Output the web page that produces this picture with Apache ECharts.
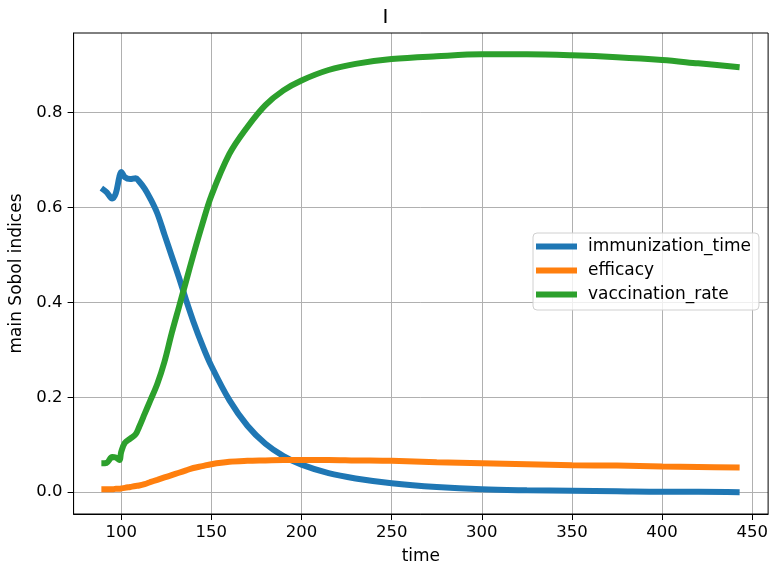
<!DOCTYPE html>
<html>
<head>
<meta charset="utf-8">
<script src="https://cdn.jsdelivr.net/npm/echarts@6/dist/echarts.min.js"></script>
<style>
  html, body { margin: 0; padding: 0; background: #fff; }
  #chart { width: 771px; height: 570px; }
</style>
</head>
<body>
<div id="chart"></div>
<script>
// sampled times (x) shared by all three curves
var times = [89, 92, 95, 97, 99, 100, 102, 105, 108, 110, 113, 116, 120, 124, 128, 132, 136, 140, 145, 150,
  160, 170, 180, 190, 200, 215, 230, 250, 275, 300, 325, 350, 375, 400, 420, 443];

var immunizationTime = [0.641, 0.632, 0.619, 0.630, 0.665, 0.675, 0.664, 0.660, 0.662, 0.655, 0.640, 0.620, 0.588, 0.543,
  0.498, 0.453, 0.405, 0.360, 0.310, 0.266, 0.194, 0.140, 0.102, 0.076, 0.058, 0.040, 0.029, 0.019, 0.011,
  0.006, 0.004, 0.003, 0.002, 0.001, 0.001, 0.000];

var efficacy = [0.006, 0.006, 0.006, 0.007, 0.007, 0.008, 0.009, 0.011, 0.013, 0.014, 0.017, 0.021, 0.026, 0.031,
  0.036, 0.041, 0.046, 0.051, 0.055, 0.059, 0.064, 0.066, 0.067, 0.068, 0.068, 0.068, 0.067, 0.066, 0.063,
  0.061, 0.059, 0.057, 0.056, 0.054, 0.053, 0.052];

var vaccinationRate = [0.061, 0.062, 0.074, 0.073, 0.068, 0.085, 0.104, 0.113, 0.122, 0.138, 0.165, 0.192, 0.228, 0.275,
  0.335, 0.390, 0.445, 0.500, 0.565, 0.625, 0.713, 0.770, 0.816, 0.847, 0.868, 0.890, 0.903, 0.913, 0.919,
  0.923, 0.923, 0.921, 0.917, 0.911, 0.904, 0.896];

var xTicks = [100, 150, 200, 250, 300, 350, 400, 450];
var yTicks = [0, 0.2, 0.4, 0.6, 0.8];

var seriesNames = ['immunization_time', 'efficacy', 'vaccination_rate'];
var seriesColors = ['#1f77b4', '#ff7f0e', '#2ca02c'];

function pairs(values) {
  return times.map(function(t, i) { return [t, values[i]]; });
}

var font = 'DejaVu Sans';
var chart = echarts.init(document.getElementById('chart'));

var option = {
  animation: false,
  backgroundColor: '#fff',
  textStyle: { fontFamily: font },
  title: {
    text: 'I',
    left: 'center',
    top: 3,
    textStyle: { fontFamily: font, fontSize: 20, fontWeight: 'normal', color: '#000' }
  },
  grid: { left: 73.6, right: 1, top: 33, bottom: 55 },
  legend: {
    orient: 'vertical',
    left: 533,
    top: 233,
    icon: 'rect',
    itemWidth: 41,
    itemHeight: 6,
    itemGap: 7,
    padding: [5, 8, 7, 3],
    borderColor: '#d0d0d0',
    borderWidth: 1,
    borderRadius: 4,
    backgroundColor: 'rgba(255,255,255,0.8)',
    textStyle: { fontFamily: font, fontSize: 17, color: '#000', padding: [0, 0, 0, 6] },
    data: seriesNames
  },
  xAxis: {
    type: 'value',
    min: 73.6,
    max: 458.8,
    name: 'time',
    nameLocation: 'middle',
    nameGap: 34,
    nameTextStyle: { fontFamily: font, fontSize: 17, color: '#000' },
    axisLine: { onZero: false, lineStyle: { color: '#000', width: 1 } },
    axisTick: { show: true, length: 6, lineStyle: { color: '#000' }, customValues: xTicks },
    axisLabel: { fontFamily: font, fontSize: 16.5, color: '#000', margin: 10, customValues: xTicks },
    splitLine: { show: true, lineStyle: { color: '#b0b0b0', width: 1 } }
  },
  yAxis: {
    type: 'value',
    min: -0.046,
    max: 0.968,
    name: 'main Sobol indices',
    nameLocation: 'middle',
    nameGap: 43,
    nameTextStyle: { fontFamily: font, fontSize: 17, color: '#000' },
    axisLine: { show: true, lineStyle: { color: '#000', width: 1 } },
    axisTick: { show: true, length: 6, lineStyle: { color: '#000' }, customValues: yTicks },
    axisLabel: {
      fontFamily: font, fontSize: 16.5, color: '#000', margin: 11, customValues: yTicks,
      formatter: function(v) { return v.toFixed(1); }
    },
    splitLine: { show: true, lineStyle: { color: '#b0b0b0', width: 1 } }
  },
  series: [immunizationTime, efficacy, vaccinationRate].map(function(values, i) {
    return {
      name: seriesNames[i],
      type: 'line',
      data: pairs(values),
      showSymbol: false,
      smooth: 0.35,
      color: seriesColors[i],
      lineStyle: { width: 6, color: seriesColors[i] }
    };
  })
};

chart.setOption(option);

// frame on top and right like the other two spines
var rect = chart.getModel().getComponent('grid').coordinateSystem.getRect();
chart.setOption({
  graphic: [{
    type: 'rect',
    shape: { x: rect.x, y: rect.y, width: rect.width, height: rect.height },
    style: { fill: 'none', stroke: '#000', lineWidth: 1 },
    silent: true,
    z: 10
  }]
});
</script>
</body>
</html>
